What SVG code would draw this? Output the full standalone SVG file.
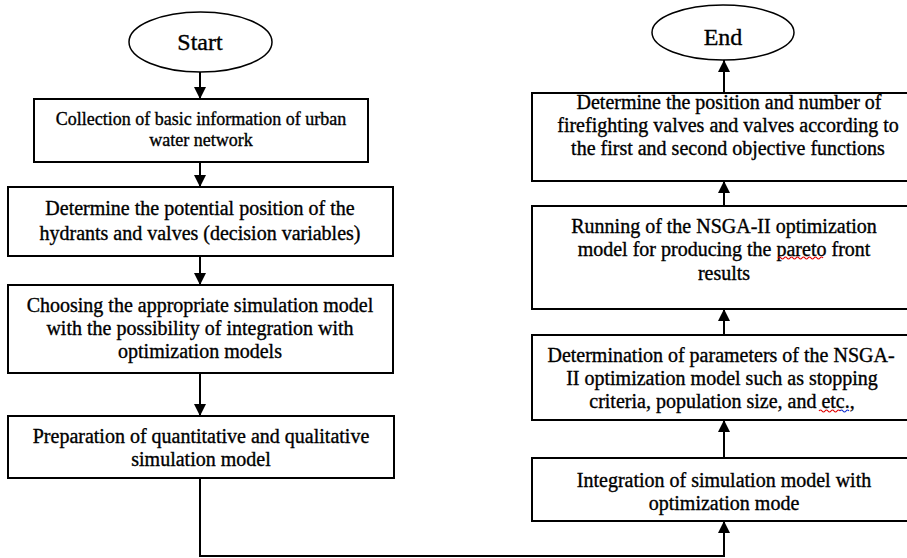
<svg xmlns="http://www.w3.org/2000/svg" width="907" height="558" viewBox="0 0 907 558">
<style>
  .box { fill: #fff; stroke: #000; stroke-width: 2; }
  .term { fill: #fff; stroke: #000; stroke-width: 1.5; }
  .t { font-family: "Liberation Serif", "Times New Roman", serif; font-size: 20px; fill: #000; text-anchor: middle; stroke: #000; stroke-width: 0.35; }
  .t18 { font-size: 18px; }
  .tt { font-size: 24px; }
  .conn { fill: none; stroke: #000; stroke-width: 2; }
  .sq { fill: none; stroke-width: 1.2; }
</style>
<defs>
  <marker id="ah" viewBox="0 0 12 12" refX="12" refY="6" markerWidth="12" markerHeight="12" markerUnits="userSpaceOnUse" orient="auto">
    <path d="M0,0 L12,6 L0,12 Z" fill="#000"/>
  </marker>
</defs>
<rect width="907" height="558" fill="#fff"/>

<g id="connectors">
  <line class="conn" x1="200" y1="72" x2="200" y2="99" marker-end="url(#ah)"/>
  <line class="conn" x1="200" y1="162" x2="200" y2="187" marker-end="url(#ah)"/>
  <line class="conn" x1="200" y1="256" x2="200" y2="285" marker-end="url(#ah)"/>
  <line class="conn" x1="200" y1="373" x2="200" y2="416" marker-end="url(#ah)"/>
  <polyline class="conn" points="200,478 200,556 724,556 724,521" marker-end="url(#ah)"/>
  <line class="conn" x1="724" y1="458" x2="724" y2="420" marker-end="url(#ah)"/>
  <line class="conn" x1="724" y1="335" x2="724" y2="309" marker-end="url(#ah)"/>
  <line class="conn" x1="724" y1="206" x2="724" y2="181" marker-end="url(#ah)"/>
  <line class="conn" x1="724" y1="93" x2="724" y2="60" marker-end="url(#ah)"/>
</g>

<g id="start">
  <ellipse class="term" cx="200.5" cy="42" rx="71.5" ry="30"/>
  <text class="t tt" x="200" y="50">Start</text>
</g>

<g id="collect">
  <rect class="box" x="34" y="99" width="334" height="63"/>
  <text class="t t18" x="201" y="125">Collection of basic information of urban</text>
  <text class="t t18" x="201" y="146">water network</text>
</g>

<g id="potential">
  <rect class="box" x="8" y="187" width="385" height="69"/>
  <text class="t" x="200" y="215">Determine the potential position of the</text>
  <text class="t" x="200" y="240">hydrants and valves (decision variables)</text>
</g>

<g id="choose">
  <rect class="box" x="8" y="285" width="385" height="88"/>
  <text class="t" x="200" y="312">Choosing the appropriate simulation model</text>
  <text class="t" x="200" y="335">with the possibility of integration with</text>
  <text class="t" x="200" y="358">optimization models</text>
</g>

<g id="prepare">
  <rect class="box" x="8" y="416" width="386" height="62"/>
  <text class="t" x="201" y="443">Preparation of quantitative and qualitative</text>
  <text class="t" x="201" y="466">simulation model</text>
</g>

<g id="integrate">
  <rect class="box" x="532" y="458" width="395" height="63"/>
  <text class="t" x="724" y="487">Integration of simulation model with</text>
  <text class="t" x="724" y="510">optimization mode</text>
</g>

<g id="params">
  <rect class="box" x="532" y="335" width="395" height="85"/>
  <text class="t" x="721" y="362">Determination of parameters of the NSGA-</text>
  <text class="t" x="722" y="385">II optimization model such as stopping</text>
  <text class="t" x="722" y="408">criteria, population size, and etc.,</text>
  <path class="sq" stroke="#e00000" d="M819,411 q1.5,-2 3,0 t3,0 t3,0 t3,0 t3,0 t3,0 t3,0"/>
  <path class="sq" stroke="#1030d0" d="M840,411 q1.5,-2 3,0 t3,0 t3,0"/>
</g>

<g id="running">
  <rect class="box" x="532" y="206" width="395" height="103"/>
  <text class="t" x="724" y="233">Running of the NSGA-II optimization</text>
  <text class="t" x="724" y="256">model for producing the pareto front</text>
  <text class="t" x="724" y="280">results</text>
  <path class="sq" stroke="#e00000" d="M778,258 q1.5,-2 3,0 t3,0 t3,0 t3,0 t3,0 t3,0 t3,0 t3,0 t3,0 t3,0 t3,0 t3,0 t3,0 t3,0 t3,0"/>
</g>

<g id="determine">
  <rect class="box" x="532" y="93" width="395" height="88"/>
  <text class="t" x="729" y="109">Determine the position and number of</text>
  <text class="t" x="728" y="132">firefighting valves and valves according to</text>
  <text class="t" x="728" y="155">the first and second objective functions</text>
</g>

<g id="end">
  <ellipse class="term" cx="723" cy="32.5" rx="71" ry="27.5"/>
  <text class="t tt" x="723" y="45">End</text>
</g>
</svg>
